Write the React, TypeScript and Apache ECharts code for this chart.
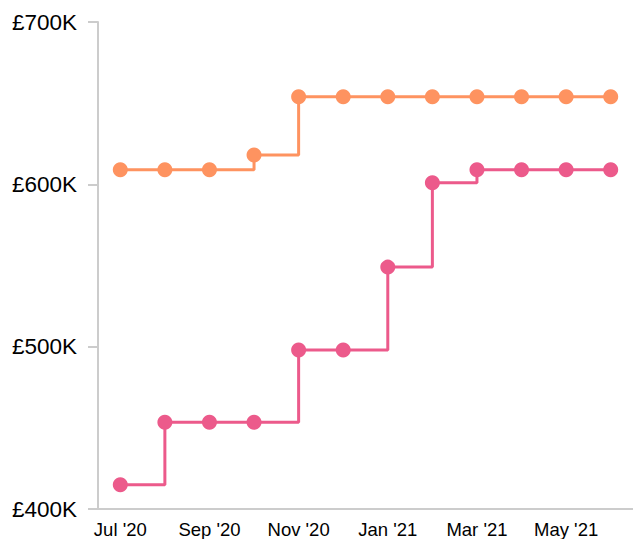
import React, { useEffect, useRef } from "react";
import * as echarts from "echarts";

const months = ["Jul '20", "Aug '20", "Sep '20", "Oct '20", "Nov '20", "Dec '20", "Jan '21", "Feb '21", "Mar '21", "Apr '21", "May '21", "Jun '21"];
const upperSeries = [609000, 609000, 609000, 618000, 654000, 654000, 654000, 654000, 654000, 654000, 654000, 654000];
const lowerSeries = [415000, 453500, 453500, 453500, 498000, 498000, 549000, 601000, 609000, 609000, 609000, 609000];
const yMin = 400000;
const yMax = 700000;
const yStep = 100000;

export default function App() {
  const ref = useRef<HTMLDivElement>(null);
  useEffect(() => {
    document.body.style.margin = "0";
    const chart = echarts.init(ref.current!, null, { renderer: "svg" });
    const font = "'Liberation Sans', Arial, Helvetica, sans-serif";
    chart.setOption({
      animation: false,
      grid: { left: 98, top: 22, right: -3, bottom: 29 },
      xAxis: {
        type: "category",
        data: months,
        boundaryGap: true,
        axisLine: { lineStyle: { color: "#cccccc", width: 2 } },
        axisTick: { alignWithLabel: true, interval: 1, length: 8, lineStyle: { color: "#cccccc", width: 2 } },
        axisLabel: { interval: 1, margin: 11, fontSize: 18.5, color: "#000", fontFamily: font },
        splitLine: { show: false },
      },
      yAxis: {
        type: "value",
        min: yMin,
        max: yMax,
        interval: yStep,
        axisLine: { show: true, lineStyle: { color: "#cccccc", width: 2 } },
        axisTick: { show: true, length: 10, lineStyle: { color: "#cccccc", width: 2 } },
        axisLabel: {
          margin: 21,
          fontSize: 22.5,
          color: "#000",
          fontFamily: font,
          formatter: (v: number) => "£" + v / 1000 + "K",
        },
        splitLine: { show: false },
      },
      series: [
        {
          type: "line",
          step: "end",
          data: upperSeries,
          symbol: "circle",
          symbolSize: 15,
          lineStyle: { color: "#fe9360", width: 3 },
          itemStyle: { color: "#fe9360" },
        },
        {
          type: "line",
          step: "end",
          data: lowerSeries,
          symbol: "circle",
          symbolSize: 15,
          lineStyle: { color: "#ec5a8b", width: 3 },
          itemStyle: { color: "#ec5a8b" },
        },
      ],
    });
    return () => chart.dispose();
  }, []);
  return <div ref={ref} style={{ width: 633, height: 539 }} />;
}
